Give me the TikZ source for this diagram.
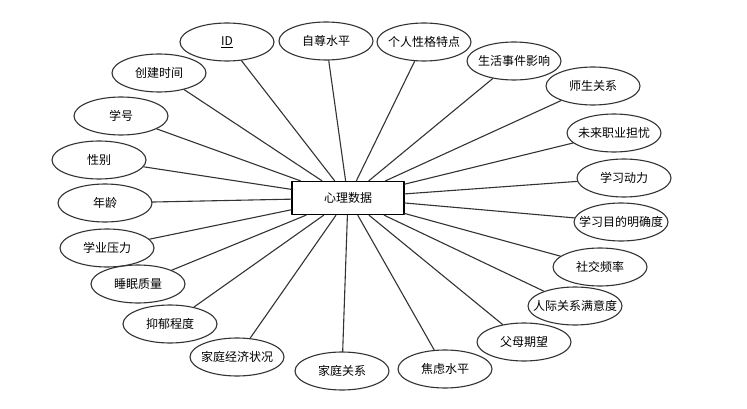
\documentclass[tikz,border=0pt]{standalone}
\usepackage{fontspec}
\setmainfont{Noto Sans CJK SC}
\usetikzlibrary{shapes.geometric}
\begin{document}
\begin{tikzpicture}[x=1pt,y=-1pt,line join=round,line cap=round,font=\fontsize{12}{14}\selectfont,
	thuoctinh/.style={ellipse,draw=black!80,line width=1.1pt,minimum width=94pt,minimum height=38pt,inner sep=0pt},
	thucthe/.style={rectangle,draw=black,line width=1.4pt,minimum width=112pt,minimum height=33pt,inner sep=0pt},
	noi/.style={draw=black!80,line width=1.1pt}]
	\useasboundingbox (0,0) rectangle (747,409); % khung 747 x 409
	\node[thucthe] (tam) at (348,198) {心理数据};
	% ten/x/y/nhan cua cac thuoc tinh
	\foreach \ten/\x/\y/\nhan in {
		id/227/42/\underline{ID}, tutrong/326/41/自尊水平, tinhcach/424/42/个人性格特点,
		sukien/514/61/生活事件影响, thaytro/593/86/师生关系, nghenghiep/614/133/未来职业担忧,
		dongluc/624/178/学习动力, mucdich/621/222/学习目的明确度, xahoi/600/267/社交频率,
		quanhe/575/306/人际关系满意度, chame/524/342/父母期望, loau/445/369/焦虑水平,
		giadinh/342/371/家庭关系, kinhte/237/357/家庭经济状况, tramcam/170/324/抑郁程度,
		giacngu/138/284/睡眠质量, apluc/107/248/学业压力, tuoi/105/203/年龄,
		gioitinh/99/160/性别, maso/121/116/学号, thoigian/159/73/创建时间}
	{
		\node[thuoctinh] (\ten) at (\x,\y) {\makebox[0pt]{\nhan}};
		\draw[noi] (tam) -- (\ten);
	}
\end{tikzpicture}
\end{document}
